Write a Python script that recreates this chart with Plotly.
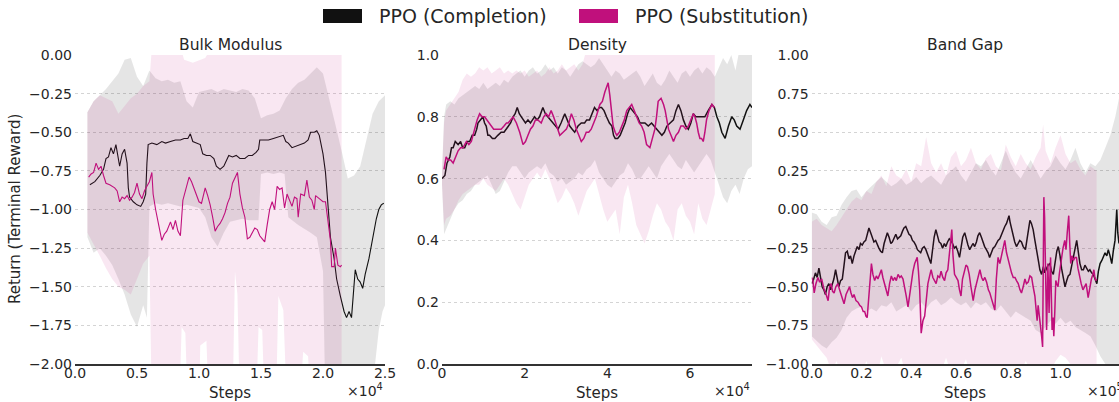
import plotly.graph_objects as go

# ---------------------------------------------------------------------------
# Training curves: mean return (line) and spread (band) for two PPO variants
# on three property targets.  Steps are stored in the axis multiplier units
# (x10^4 for Bulk Modulus / Density, x10^5 for Band Gap).
# ---------------------------------------------------------------------------

# ---- Bulk Modulus (steps x 1e4) ----
bulk_completion = [
    (0.12, -0.84), (0.16, -0.82), (0.20, -0.78), (0.23, -0.74), (0.25, -0.67), (0.27, -0.66),
    (0.29, -0.60), (0.31, -0.64), (0.33, -0.58), (0.35, -0.66), (0.36, -0.72), (0.38, -0.64),
    (0.40, -0.61), (0.42, -0.70), (0.43, -0.86), (0.44, -0.92), (0.47, -0.95), (0.50, -0.97),
    (0.53, -0.98), (0.55, -0.95), (0.57, -0.90), (0.58, -0.70), (0.59, -0.58), (0.62, -0.57),
    (0.66, -0.58), (0.70, -0.56), (0.73, -0.57), (0.77, -0.56), (0.81, -0.55), (0.85, -0.55),
    (0.88, -0.54), (0.91, -0.54), (0.93, -0.51), (0.95, -0.56), (0.98, -0.57), (1.01, -0.58),
    (1.03, -0.64), (1.06, -0.65), (1.09, -0.65), (1.12, -0.67), (1.14, -0.72), (1.17, -0.74),
    (1.20, -0.72), (1.22, -0.68), (1.24, -0.65), (1.27, -0.66), (1.30, -0.65), (1.33, -0.67),
    (1.37, -0.67), (1.40, -0.65), (1.43, -0.65), (1.46, -0.63), (1.48, -0.61), (1.49, -0.55),
    (1.52, -0.55), (1.56, -0.55), (1.60, -0.54), (1.64, -0.53), (1.68, -0.52), (1.70, -0.56),
    (1.72, -0.57), (1.75, -0.60), (1.78, -0.59), (1.81, -0.58), (1.85, -0.57), (1.88, -0.55),
    (1.90, -0.50), (1.93, -0.50), (1.95, -0.49), (1.97, -0.52), (2.00, -0.64), (2.02, -0.76),
    (2.04, -0.95), (2.06, -1.18), (2.09, -1.32), (2.11, -1.45), (2.14, -1.56), (2.17, -1.66),
    (2.19, -1.70), (2.21, -1.66), (2.23, -1.70), (2.25, -1.50), (2.26, -1.39), (2.28, -1.45),
    (2.30, -1.47), (2.32, -1.51), (2.34, -1.42), (2.37, -1.32), (2.40, -1.18), (2.43, -1.06),
    (2.45, -1.00), (2.47, -0.97), (2.49, -0.96),
]
bulk_substitution = [
    (0.11, -0.79), (0.13, -0.77), (0.15, -0.76), (0.17, -0.70), (0.19, -0.74), (0.21, -0.72),
    (0.23, -0.78), (0.25, -0.83), (0.28, -0.84), (0.30, -0.85), (0.32, -0.86), (0.34, -0.88),
    (0.36, -0.95), (0.38, -0.92), (0.40, -0.93), (0.42, -0.91), (0.44, -0.94), (0.46, -0.92),
    (0.48, -0.89), (0.50, -0.83), (0.52, -0.90), (0.54, -0.93), (0.56, -0.88), (0.58, -0.85),
    (0.60, -0.82), (0.62, -0.76), (0.63, -0.90), (0.65, -1.00), (0.66, -1.05), (0.68, -1.12),
    (0.70, -1.20), (0.72, -1.16), (0.74, -1.14), (0.77, -1.08), (0.79, -1.13), (0.81, -1.07),
    (0.83, -1.14), (0.85, -1.17), (0.87, -0.94), (0.90, -0.85), (0.92, -0.79), (0.94, -0.82),
    (0.96, -0.86), (0.98, -0.90), (1.00, -0.95), (1.02, -0.96), (1.05, -0.86), (1.07, -0.91),
    (1.09, -0.97), (1.11, -1.05), (1.13, -1.14), (1.15, -1.11), (1.17, -1.09), (1.19, -1.06),
    (1.21, -1.02), (1.23, -0.96), (1.25, -0.92), (1.27, -0.83), (1.29, -0.80), (1.31, -0.76),
    (1.33, -0.90), (1.35, -0.99), (1.37, -1.05), (1.39, -1.19), (1.41, -1.18), (1.43, -1.15),
    (1.45, -1.12), (1.47, -1.13), (1.49, -1.17), (1.51, -1.19), (1.53, -1.21), (1.55, -1.10),
    (1.57, -1.00), (1.59, -0.95), (1.61, -1.00), (1.63, -0.85), (1.65, -0.87), (1.67, -0.86),
    (1.69, -0.99), (1.71, -0.90), (1.73, -0.94), (1.75, -0.98), (1.77, -0.92), (1.79, -0.93),
    (1.80, -1.05), (1.82, -0.90), (1.85, -0.91), (1.87, -0.81), (1.89, -0.92), (1.91, -0.94),
    (1.93, -1.00), (1.94, -0.91), (1.97, -0.93), (2.00, -0.95), (2.02, -0.95), (2.04, -1.09),
    (2.06, -1.20), (2.07, -1.37), (2.09, -1.37), (2.10, -1.25), (2.12, -1.36), (2.14, -1.37),
    (2.15, -1.36),
]
bulk_completion_upper = [
    (0.10, -0.37), (0.15, -0.30), (0.20, -0.26), (0.25, -0.22), (0.30, -0.17), (0.35, -0.12),
    (0.40, -0.03), (0.45, -0.02), (0.50, -0.14), (0.55, -0.20), (0.60, -0.10), (0.65, -0.15),
    (0.70, -0.17), (0.75, -0.16), (0.80, -0.18), (0.85, -0.17), (0.90, -0.30), (0.95, -0.34),
    (1.00, -0.24), (1.05, -0.23), (1.10, -0.22), (1.15, -0.24), (1.20, -0.22), (1.25, -0.23),
    (1.30, -0.24), (1.35, -0.22), (1.40, -0.23), (1.45, -0.28), (1.50, -0.41), (1.55, -0.39),
    (1.60, -0.38), (1.65, -0.36), (1.70, -0.28), (1.75, -0.22), (1.80, -0.18), (1.85, -0.16),
    (1.90, -0.12), (1.95, -0.08), (2.00, -0.12), (2.05, -0.28), (2.10, -0.45), (2.15, -0.62),
    (2.20, -0.80), (2.25, -0.78), (2.30, -0.72), (2.35, -0.55), (2.40, -0.38), (2.45, -0.30),
    (2.50, -0.26),
]
bulk_completion_lower = [
    (0.10, -1.18), (0.15, -1.28), (0.20, -1.25), (0.25, -1.30), (0.30, -1.36), (0.35, -1.45),
    (0.40, -1.55), (0.45, -1.68), (0.50, -1.76), (0.55, -1.62), (0.58, -1.70), (0.60, -0.98),
    (0.65, -0.96), (0.70, -0.97), (0.75, -0.96), (0.80, -0.97), (0.85, -0.98), (0.90, -0.97),
    (0.95, -0.98), (1.00, -0.99), (1.05, -1.05), (1.10, -1.18), (1.15, -1.24), (1.20, -1.15),
    (1.25, -1.08), (1.30, -1.07), (1.35, -1.06), (1.40, -1.07), (1.45, -1.07), (1.48, -1.07),
    (1.50, -0.77), (1.55, -0.76), (1.60, -0.77), (1.65, -0.76), (1.69, -0.77), (1.72, -1.05),
    (1.80, -1.10), (1.90, -1.15), (1.95, -1.18), (2.00, -1.40), (2.02, -2.30), (2.40, -2.30),
    (2.42, -2.00), (2.45, -1.78), (2.48, -1.66), (2.50, -1.62),
]
bulk_substitution_upper = [
    (0.10, -0.37), (0.15, -0.30), (0.20, -0.26), (0.25, -0.28), (0.30, -0.30), (0.35, -0.38),
    (0.40, -0.33), (0.45, -0.28), (0.50, -0.25), (0.55, -0.20), (0.60, -0.17), (0.62, 0.05),
    (0.85, 0.05), (0.88, -0.03), (0.95, -0.05), (1.05, -0.02), (1.10, 0.05), (2.15, 0.05),
]
bulk_substitution_lower = [
    (0.10, -1.15), (0.15, -1.22), (0.20, -1.30), (0.25, -1.38), (0.30, -1.45), (0.35, -1.50),
    (0.40, -1.52), (0.45, -1.55), (0.50, -1.45), (0.55, -1.35), (0.60, -1.30), (0.62, -2.30),
    (0.84, -2.30), (0.86, -1.76), (0.89, -1.80), (0.91, -2.30), (1.00, -2.30), (1.01, -1.88),
    (1.06, -1.85), (1.08, -2.30), (1.27, -2.30), (1.29, -1.40), (1.31, -1.55), (1.33, -2.30),
    (1.46, -2.30), (1.48, -1.76), (1.51, -1.78), (1.53, -2.30), (1.62, -2.30), (1.64, -1.56),
    (1.68, -1.65), (1.71, -2.30), (1.81, -2.30), (1.84, -1.92), (1.88, -1.95), (1.90, -2.30),
    (2.15, -2.30),
]

# ---- Density (steps x 1e4) ----
density_completion = [
    (0.00, 0.60), (0.07, 0.61), (0.12, 0.65), (0.19, 0.67), (0.23, 0.70), (0.27, 0.70),
    (0.32, 0.72), (0.39, 0.71), (0.45, 0.72), (0.50, 0.70), (0.55, 0.70), (0.61, 0.72),
    (0.67, 0.72), (0.73, 0.74), (0.79, 0.74), (0.84, 0.76), (0.87, 0.78), (0.93, 0.79),
    (0.99, 0.80), (1.03, 0.78), (1.07, 0.77), (1.11, 0.74), (1.15, 0.74), (1.22, 0.73),
    (1.28, 0.73), (1.35, 0.74), (1.43, 0.75), (1.50, 0.75), (1.55, 0.76), (1.60, 0.77),
    (1.66, 0.78), (1.72, 0.80), (1.77, 0.81), (1.82, 0.83), (1.87, 0.81), (1.92, 0.80),
    (1.96, 0.79), (2.02, 0.78), (2.08, 0.79), (2.14, 0.78), (2.19, 0.79), (2.24, 0.80),
    (2.30, 0.79), (2.36, 0.80), (2.44, 0.83), (2.50, 0.81), (2.56, 0.80), (2.62, 0.79),
    (2.69, 0.78), (2.75, 0.77), (2.81, 0.76), (2.88, 0.78), (2.97, 0.81), (3.03, 0.79),
    (3.09, 0.77), (3.15, 0.76), (3.21, 0.75), (3.29, 0.77), (3.37, 0.78), (3.45, 0.78),
    (3.50, 0.79), (3.57, 0.79), (3.63, 0.81), (3.69, 0.83), (3.75, 0.82), (3.81, 0.83),
    (3.86, 0.83), (3.92, 0.82), (3.98, 0.80), (4.05, 0.78), (4.11, 0.77), (4.15, 0.74),
    (4.19, 0.73), (4.25, 0.73), (4.31, 0.74), (4.37, 0.76), (4.43, 0.78), (4.49, 0.81),
    (4.55, 0.83), (4.61, 0.82), (4.67, 0.81), (4.73, 0.80), (4.79, 0.78), (4.85, 0.78),
    (4.91, 0.78), (4.99, 0.77), (5.07, 0.78), (5.13, 0.77), (5.19, 0.76), (5.25, 0.75),
    (5.32, 0.74), (5.38, 0.75), (5.44, 0.77), (5.52, 0.78), (5.60, 0.79), (5.66, 0.82),
    (5.72, 0.84), (5.78, 0.82), (5.84, 0.79), (5.90, 0.77), (5.96, 0.76), (6.02, 0.78),
    (6.08, 0.81), (6.14, 0.80), (6.20, 0.80), (6.28, 0.80), (6.36, 0.80), (6.44, 0.82),
    (6.53, 0.84), (6.59, 0.83), (6.65, 0.80), (6.71, 0.78), (6.77, 0.75), (6.85, 0.73),
    (6.93, 0.77), (7.01, 0.80), (7.07, 0.79), (7.13, 0.77), (7.21, 0.76), (7.29, 0.79),
    (7.37, 0.82), (7.45, 0.84), (7.50, 0.83),
]
density_substitution = [
    (0.05, 0.63), (0.10, 0.67), (0.15, 0.66), (0.21, 0.66), (0.27, 0.65), (0.33, 0.67),
    (0.39, 0.69), (0.45, 0.70), (0.51, 0.70), (0.59, 0.72), (0.65, 0.71), (0.71, 0.72),
    (0.79, 0.76), (0.85, 0.79), (0.91, 0.81), (0.97, 0.80), (1.03, 0.80), (1.09, 0.79),
    (1.15, 0.78), (1.19, 0.77), (1.25, 0.76), (1.31, 0.76), (1.37, 0.76), (1.43, 0.76),
    (1.50, 0.77), (1.56, 0.78), (1.60, 0.78), (1.66, 0.79), (1.72, 0.80), (1.80, 0.78),
    (1.88, 0.75), (1.96, 0.71), (2.02, 0.72), (2.08, 0.74), (2.14, 0.76), (2.20, 0.77),
    (2.26, 0.79), (2.32, 0.79), (2.40, 0.78), (2.46, 0.80), (2.52, 0.81), (2.58, 0.80),
    (2.64, 0.82), (2.70, 0.80), (2.77, 0.77), (2.85, 0.74), (2.93, 0.75), (3.01, 0.76),
    (3.07, 0.78), (3.13, 0.81), (3.19, 0.79), (3.25, 0.76), (3.31, 0.74), (3.37, 0.72),
    (3.43, 0.73), (3.49, 0.75), (3.55, 0.75), (3.61, 0.76), (3.67, 0.78), (3.73, 0.80),
    (3.82, 0.84), (3.88, 0.85), (3.94, 0.88), (4.02, 0.91), (4.06, 0.87), (4.10, 0.81),
    (4.14, 0.77), (4.19, 0.75), (4.23, 0.74), (4.29, 0.75), (4.35, 0.77), (4.41, 0.79),
    (4.47, 0.82), (4.53, 0.83), (4.59, 0.84), (4.65, 0.82), (4.71, 0.80), (4.77, 0.78),
    (4.83, 0.77), (4.89, 0.75), (4.95, 0.71), (5.03, 0.70), (5.09, 0.73), (5.15, 0.76),
    (5.19, 0.80), (5.23, 0.85), (5.30, 0.86), (5.36, 0.84), (5.40, 0.82), (5.44, 0.79),
    (5.48, 0.76), (5.54, 0.74), (5.60, 0.72), (5.66, 0.74), (5.72, 0.75), (5.78, 0.77),
    (5.84, 0.77), (5.90, 0.76), (5.96, 0.77), (6.02, 0.79), (6.08, 0.81), (6.12, 0.80),
    (6.16, 0.78), (6.20, 0.75), (6.24, 0.73), (6.28, 0.73), (6.32, 0.72), (6.36, 0.75),
    (6.40, 0.79), (6.46, 0.82), (6.53, 0.84), (6.59, 0.83),
]
density_completion_upper = [
    (0.00, 0.62), (0.05, 0.80), (0.10, 0.84), (0.20, 0.85), (0.30, 0.84), (0.40, 0.86),
    (0.50, 0.87), (0.60, 0.88), (0.70, 0.89), (0.80, 0.90), (0.90, 0.89), (1.00, 0.91),
    (1.10, 0.89), (1.20, 0.90), (1.30, 0.91), (1.40, 0.90), (1.50, 0.92), (1.60, 0.91),
    (1.70, 0.93), (1.80, 0.94), (1.90, 0.95), (2.00, 0.93), (2.10, 0.95), (2.20, 0.96),
    (2.30, 0.94), (2.40, 0.95), (2.50, 0.97), (2.60, 0.95), (2.70, 0.96), (2.80, 0.94),
    (2.90, 0.96), (3.00, 0.95), (3.10, 0.93), (3.20, 0.95), (3.30, 0.97), (3.40, 0.98),
    (3.50, 0.97), (3.60, 0.96), (3.70, 0.97), (3.80, 0.99), (3.90, 0.97), (4.00, 0.95),
    (4.10, 0.93), (4.20, 0.95), (4.30, 0.94), (4.40, 0.92), (4.50, 0.93), (4.60, 0.94),
    (4.70, 0.95), (4.80, 0.93), (4.90, 0.90), (5.00, 0.92), (5.10, 0.94), (5.20, 0.91),
    (5.30, 0.90), (5.40, 0.92), (5.50, 0.95), (5.60, 0.93), (5.70, 0.91), (5.80, 0.94),
    (5.90, 0.95), (6.00, 0.93), (6.10, 0.95), (6.20, 0.96), (6.30, 0.94), (6.40, 0.96),
    (6.50, 0.95), (6.60, 0.93), (6.70, 0.96), (6.80, 0.99), (6.90, 0.97), (7.00, 1.00),
    (7.10, 0.95), (7.20, 1.02), (7.30, 1.05), (7.50, 1.05),
]
density_completion_lower = [
    (0.00, 0.58), (0.05, 0.42), (0.10, 0.44), (0.20, 0.47), (0.30, 0.50), (0.40, 0.52),
    (0.50, 0.53), (0.60, 0.55), (0.70, 0.56), (0.80, 0.58), (0.90, 0.59), (1.00, 0.60),
    (1.10, 0.61), (1.20, 0.58), (1.30, 0.55), (1.40, 0.56), (1.50, 0.59), (1.60, 0.62),
    (1.70, 0.64), (1.80, 0.64), (1.90, 0.62), (2.00, 0.60), (2.10, 0.62), (2.20, 0.63),
    (2.30, 0.64), (2.40, 0.63), (2.50, 0.65), (2.60, 0.62), (2.70, 0.61), (2.80, 0.59),
    (2.90, 0.60), (3.00, 0.58), (3.10, 0.59), (3.20, 0.60), (3.30, 0.62), (3.40, 0.61),
    (3.50, 0.63), (3.60, 0.64), (3.70, 0.66), (3.80, 0.62), (3.90, 0.60), (4.00, 0.58),
    (4.10, 0.57), (4.20, 0.59), (4.30, 0.61), (4.40, 0.62), (4.50, 0.65), (4.60, 0.63),
    (4.70, 0.60), (4.80, 0.60), (4.90, 0.62), (5.00, 0.64), (5.10, 0.62), (5.20, 0.60),
    (5.30, 0.64), (5.40, 0.66), (5.50, 0.68), (5.60, 0.66), (5.70, 0.64), (5.80, 0.63),
    (5.90, 0.66), (6.00, 0.64), (6.10, 0.62), (6.20, 0.64), (6.30, 0.66), (6.40, 0.68),
    (6.50, 0.66), (6.60, 0.62), (6.70, 0.58), (6.80, 0.54), (6.90, 0.52), (7.00, 0.56),
    (7.10, 0.58), (7.20, 0.55), (7.30, 0.60), (7.40, 0.63), (7.50, 0.64),
]
density_substitution_upper = [
    (0.00, 0.62), (0.05, 0.78), (0.10, 0.82), (0.20, 0.84), (0.30, 0.86), (0.40, 0.88),
    (0.50, 0.92), (0.60, 0.94), (0.70, 0.93), (0.80, 0.94), (0.90, 0.96), (1.00, 0.95),
    (1.10, 0.96), (1.20, 0.94), (1.30, 0.95), (1.40, 0.96), (1.50, 0.94), (1.60, 0.95),
    (1.70, 0.94), (1.80, 0.95), (1.90, 0.94), (2.00, 0.95), (2.10, 0.93), (2.20, 0.94),
    (2.30, 0.95), (2.40, 0.93), (2.50, 0.94), (2.60, 0.96), (2.70, 0.94), (2.80, 0.95),
    (2.90, 0.97), (3.00, 0.95), (3.10, 0.96), (3.20, 0.97), (3.30, 0.95), (3.40, 0.97),
    (3.50, 1.02), (3.60, 1.05), (6.60, 1.05),
]
density_substitution_lower = [
    (0.00, 0.58), (0.05, 0.45), (0.10, 0.47), (0.20, 0.48), (0.30, 0.50), (0.40, 0.53),
    (0.50, 0.55), (0.60, 0.56), (0.70, 0.57), (0.80, 0.58), (0.90, 0.58), (1.00, 0.60),
    (1.10, 0.58), (1.20, 0.57), (1.30, 0.56), (1.40, 0.58), (1.50, 0.60), (1.60, 0.58),
    (1.70, 0.55), (1.80, 0.52), (1.90, 0.50), (2.00, 0.54), (2.10, 0.58), (2.20, 0.60),
    (2.30, 0.62), (2.40, 0.60), (2.50, 0.63), (2.60, 0.60), (2.70, 0.56), (2.80, 0.52),
    (2.90, 0.54), (3.00, 0.57), (3.10, 0.55), (3.20, 0.52), (3.30, 0.48), (3.40, 0.52),
    (3.50, 0.56), (3.60, 0.58), (3.70, 0.60), (3.80, 0.55), (3.90, 0.50), (4.00, 0.46),
    (4.10, 0.48), (4.20, 0.50), (4.30, 0.42), (4.40, 0.54), (4.50, 0.58), (4.60, 0.52),
    (4.70, 0.45), (4.80, 0.42), (4.90, 0.39), (5.00, 0.43), (5.10, 0.48), (5.20, 0.52),
    (5.30, 0.50), (5.40, 0.46), (5.50, 0.44), (5.60, 0.40), (5.70, 0.50), (5.80, 0.52),
    (5.90, 0.48), (6.00, 0.46), (6.10, 0.42), (6.20, 0.52), (6.30, 0.47), (6.40, 0.45),
    (6.50, 0.50), (6.60, 0.55),
]

# ---- Band Gap (steps x 1e5) ----
bandgap_completion = [
    (0.000, -0.48), (0.008, -0.45), (0.015, -0.41), (0.022, -0.44), (0.029, -0.38), (0.036, -0.45),
    (0.042, -0.50), (0.049, -0.52), (0.055, -0.55), (0.062, -0.50), (0.069, -0.48), (0.076, -0.52),
    (0.082, -0.49), (0.089, -0.45), (0.096, -0.39), (0.103, -0.45), (0.109, -0.50), (0.116, -0.46),
    (0.123, -0.45), (0.130, -0.36), (0.136, -0.28), (0.143, -0.27), (0.150, -0.32), (0.156, -0.30),
    (0.163, -0.35), (0.170, -0.30), (0.176, -0.27), (0.183, -0.24), (0.190, -0.26), (0.196, -0.22),
    (0.203, -0.23), (0.210, -0.21), (0.217, -0.20), (0.223, -0.16), (0.230, -0.12), (0.237, -0.15),
    (0.244, -0.19), (0.250, -0.21), (0.257, -0.20), (0.264, -0.23), (0.270, -0.25), (0.277, -0.27),
    (0.284, -0.28), (0.291, -0.22), (0.297, -0.18), (0.304, -0.15), (0.311, -0.18), (0.318, -0.22),
    (0.324, -0.21), (0.331, -0.18), (0.338, -0.16), (0.345, -0.19), (0.351, -0.18), (0.358, -0.17),
    (0.365, -0.14), (0.371, -0.12), (0.378, -0.11), (0.385, -0.14), (0.391, -0.16), (0.398, -0.17),
    (0.405, -0.20), (0.411, -0.21), (0.418, -0.23), (0.425, -0.26), (0.432, -0.27), (0.438, -0.28),
    (0.445, -0.25), (0.452, -0.24), (0.459, -0.26), (0.465, -0.29), (0.472, -0.33), (0.479, -0.35),
    (0.485, -0.27), (0.492, -0.18), (0.499, -0.13), (0.506, -0.17), (0.512, -0.21), (0.519, -0.22),
    (0.526, -0.25), (0.533, -0.22), (0.539, -0.24), (0.546, -0.21), (0.553, -0.19), (0.559, -0.20),
    (0.566, -0.22), (0.573, -0.25), (0.580, -0.24), (0.587, -0.27), (0.594, -0.31), (0.600, -0.25),
    (0.607, -0.18), (0.615, -0.15), (0.621, -0.19), (0.628, -0.23), (0.635, -0.26), (0.642, -0.24),
    (0.648, -0.22), (0.655, -0.24), (0.662, -0.21), (0.668, -0.17), (0.675, -0.15), (0.682, -0.18),
    (0.689, -0.22), (0.695, -0.24), (0.702, -0.26), (0.709, -0.28), (0.715, -0.31), (0.722, -0.28),
    (0.729, -0.25), (0.736, -0.24), (0.743, -0.22), (0.749, -0.20), (0.756, -0.19), (0.763, -0.16),
    (0.769, -0.14), (0.776, -0.11), (0.783, -0.09), (0.789, -0.06), (0.793, -0.04), (0.797, -0.08),
    (0.803, -0.12), (0.810, -0.18), (0.816, -0.21), (0.823, -0.24), (0.830, -0.22), (0.836, -0.20),
    (0.843, -0.21), (0.850, -0.24), (0.859, -0.26), (0.866, -0.18), (0.872, -0.10), (0.877, -0.07),
    (0.883, -0.09), (0.890, -0.13), (0.897, -0.20), (0.906, -0.27), (0.912, -0.34), (0.917, -0.39),
    (0.924, -0.42), (0.931, -0.37), (0.937, -0.41), (0.944, -0.38), (0.950, -0.36), (0.957, -0.35),
    (0.964, -0.40), (0.971, -0.42), (0.978, -0.33), (0.985, -0.27), (0.991, -0.24), (0.998, -0.30),
    (1.004, -0.38), (1.011, -0.44), (1.018, -0.50), (1.025, -0.46), (1.031, -0.43), (1.038, -0.42),
    (1.045, -0.36), (1.051, -0.31), (1.058, -0.25), (1.065, -0.20), (1.071, -0.27), (1.078, -0.35),
    (1.085, -0.39), (1.092, -0.39), (1.098, -0.36), (1.105, -0.38), (1.112, -0.40), (1.118, -0.39),
    (1.125, -0.41), (1.132, -0.42), (1.139, -0.45), (1.146, -0.48), (1.152, -0.40), (1.159, -0.35),
    (1.166, -0.33), (1.172, -0.30), (1.179, -0.28), (1.186, -0.30), (1.192, -0.26), (1.199, -0.30),
    (1.206, -0.35), (1.212, -0.27), (1.219, -0.20), (1.226, 0.00), (1.230, -0.15), (1.235, -0.22),
]
bandgap_substitution = [
    (0.000, -0.44), (0.005, -0.46), (0.010, -0.54), (0.017, -0.48), (0.025, -0.44), (0.032, -0.47),
    (0.040, -0.45), (0.045, -0.50), (0.050, -0.52), (0.058, -0.55), (0.066, -0.59), (0.072, -0.50),
    (0.078, -0.48), (0.084, -0.53), (0.090, -0.54), (0.097, -0.50), (0.105, -0.48), (0.112, -0.52),
    (0.118, -0.55), (0.124, -0.58), (0.130, -0.61), (0.138, -0.55), (0.146, -0.52), (0.152, -0.50),
    (0.158, -0.54), (0.164, -0.57), (0.170, -0.55), (0.178, -0.59), (0.186, -0.60), (0.193, -0.62),
    (0.200, -0.63), (0.207, -0.66), (0.213, -0.66), (0.218, -0.69), (0.223, -0.70), (0.228, -0.60),
    (0.234, -0.45), (0.240, -0.35), (0.246, -0.42), (0.253, -0.46), (0.260, -0.43), (0.266, -0.45),
    (0.273, -0.42), (0.280, -0.39), (0.286, -0.44), (0.293, -0.48), (0.300, -0.53), (0.306, -0.56),
    (0.313, -0.48), (0.320, -0.43), (0.327, -0.46), (0.334, -0.44), (0.340, -0.46), (0.347, -0.42),
    (0.354, -0.44), (0.360, -0.43), (0.367, -0.45), (0.374, -0.50), (0.380, -0.56), (0.387, -0.63),
    (0.394, -0.55), (0.400, -0.46), (0.407, -0.40), (0.414, -0.35), (0.420, -0.32), (0.424, -0.31),
    (0.429, -0.40), (0.434, -0.52), (0.440, -0.80), (0.447, -0.72), (0.454, -0.69), (0.460, -0.58),
    (0.467, -0.48), (0.474, -0.43), (0.480, -0.39), (0.487, -0.44), (0.494, -0.46), (0.500, -0.48),
    (0.507, -0.43), (0.514, -0.44), (0.520, -0.40), (0.527, -0.44), (0.534, -0.46), (0.540, -0.41),
    (0.547, -0.39), (0.552, -0.30), (0.557, -0.22), (0.563, -0.13), (0.568, -0.30), (0.574, -0.42),
    (0.581, -0.44), (0.588, -0.46), (0.594, -0.52), (0.600, -0.56), (0.606, -0.45), (0.613, -0.40),
    (0.620, -0.36), (0.626, -0.37), (0.633, -0.42), (0.640, -0.50), (0.649, -0.59), (0.656, -0.52),
    (0.663, -0.47), (0.670, -0.42), (0.676, -0.39), (0.683, -0.44), (0.689, -0.46), (0.696, -0.44),
    (0.703, -0.47), (0.710, -0.52), (0.716, -0.54), (0.723, -0.58), (0.729, -0.61), (0.736, -0.65),
    (0.742, -0.45), (0.749, -0.31), (0.756, -0.35), (0.763, -0.30), (0.770, -0.25), (0.776, -0.20),
    (0.783, -0.28), (0.790, -0.33), (0.797, -0.38), (0.803, -0.41), (0.810, -0.44), (0.817, -0.44),
    (0.823, -0.46), (0.830, -0.48), (0.837, -0.52), (0.843, -0.54), (0.850, -0.50), (0.857, -0.45),
    (0.863, -0.48), (0.870, -0.47), (0.877, -0.43), (0.884, -0.44), (0.890, -0.50), (0.897, -0.56),
    (0.902, -0.65), (0.906, -0.72), (0.910, -0.62), (0.915, -0.68), (0.920, -0.76), (0.924, -0.82),
    (0.928, -0.89), (0.931, -0.35), (0.933, 0.08), (0.936, -0.05), (0.938, -0.26), (0.941, -0.60),
    (0.944, -0.78), (0.947, -0.55), (0.949, -0.35), (0.952, -0.52), (0.954, -0.67), (0.957, -0.45),
    (0.960, -0.31), (0.963, -0.55), (0.966, -0.78), (0.970, -0.70), (0.973, -0.82), (0.977, -0.66),
    (0.981, -0.46), (0.985, -0.48), (0.990, -0.50), (0.995, -0.42), (1.000, -0.36), (1.004, -0.31),
    (1.010, -0.25), (1.017, -0.20), (1.022, -0.26), (1.027, -0.15), (1.033, -0.04), (1.037, -0.22),
    (1.041, -0.35), (1.046, -0.30), (1.052, -0.33), (1.058, -0.31), (1.064, -0.31), (1.070, -0.38),
    (1.077, -0.44), (1.083, -0.48), (1.090, -0.52), (1.096, -0.50), (1.103, -0.48), (1.111, -0.57),
    (1.118, -0.50), (1.124, -0.45), (1.130, -0.42), (1.134, -0.39), (1.138, -0.44), (1.142, -0.46),
    (1.145, -0.45),
]
bandgap_completion_upper = [
    (0.00, -0.02), (0.02, -0.03), (0.04, -0.08), (0.06, -0.10), (0.08, -0.05), (0.10, -0.04),
    (0.12, 0.03), (0.14, 0.08), (0.16, 0.12), (0.18, 0.13), (0.20, 0.08), (0.22, 0.12),
    (0.24, 0.15), (0.26, 0.18), (0.28, 0.21), (0.30, 0.18), (0.32, 0.15), (0.34, 0.17),
    (0.36, 0.20), (0.38, 0.16), (0.40, 0.18), (0.42, 0.21), (0.44, 0.17), (0.46, 0.20),
    (0.48, 0.22), (0.50, 0.19), (0.52, 0.16), (0.54, 0.22), (0.56, 0.25), (0.58, 0.28),
    (0.60, 0.22), (0.62, 0.18), (0.64, 0.24), (0.66, 0.30), (0.68, 0.28), (0.70, 0.32),
    (0.72, 0.26), (0.74, 0.22), (0.76, 0.30), (0.78, 0.38), (0.80, 0.30), (0.82, 0.24),
    (0.84, 0.20), (0.86, 0.26), (0.88, 0.32), (0.90, 0.26), (0.92, 0.20), (0.94, 0.25),
    (0.96, 0.28), (0.98, 0.35), (1.00, 0.30), (1.02, 0.26), (1.04, 0.32), (1.06, 0.40),
    (1.08, 0.30), (1.10, 0.24), (1.12, 0.30), (1.14, 0.28), (1.16, 0.32), (1.18, 0.40),
    (1.20, 0.48), (1.22, 0.60), (1.235, 0.72),
]
bandgap_completion_lower = [
    (0.00, -0.82), (0.02, -0.85), (0.04, -0.88), (0.06, -0.90), (0.08, -0.86), (0.10, -0.83),
    (0.12, -0.78), (0.14, -0.70), (0.16, -0.66), (0.18, -0.64), (0.20, -0.63), (0.22, -0.66),
    (0.24, -0.64), (0.26, -0.66), (0.28, -0.62), (0.30, -0.63), (0.32, -0.60), (0.34, -0.66),
    (0.36, -0.64), (0.38, -0.62), (0.40, -0.66), (0.42, -0.62), (0.44, -0.60), (0.46, -0.64),
    (0.48, -0.60), (0.50, -0.58), (0.52, -0.62), (0.54, -0.60), (0.56, -0.57), (0.58, -0.60),
    (0.60, -0.62), (0.62, -0.60), (0.64, -0.64), (0.66, -0.60), (0.68, -0.62), (0.70, -0.60),
    (0.72, -0.64), (0.74, -0.66), (0.76, -0.62), (0.78, -0.66), (0.80, -0.70), (0.82, -0.66),
    (0.84, -0.68), (0.86, -0.70), (0.88, -0.72), (0.90, -0.78), (0.92, -0.80), (0.94, -0.76),
    (0.96, -0.72), (0.98, -0.74), (1.00, -0.70), (1.02, -0.74), (1.04, -0.72), (1.06, -0.76),
    (1.08, -0.78), (1.10, -0.80), (1.12, -0.82), (1.14, -0.88), (1.16, -0.95), (1.18, -1.00),
    (1.20, -1.05), (1.235, -1.05),
]
bandgap_substitution_upper = [
    (0.00, -0.08), (0.02, -0.06), (0.04, -0.10), (0.06, -0.12), (0.08, -0.14), (0.10, -0.10),
    (0.12, -0.05), (0.14, 0.00), (0.16, 0.05), (0.18, 0.08), (0.20, 0.06), (0.22, 0.12),
    (0.24, 0.10), (0.26, 0.18), (0.28, 0.22), (0.30, 0.15), (0.32, 0.28), (0.34, 0.22),
    (0.36, 0.20), (0.38, 0.26), (0.40, 0.18), (0.42, 0.30), (0.44, 0.28), (0.46, 0.47),
    (0.48, 0.30), (0.50, 0.24), (0.52, 0.30), (0.54, 0.22), (0.56, 0.34), (0.58, 0.38),
    (0.60, 0.28), (0.62, 0.32), (0.64, 0.40), (0.66, 0.30), (0.68, 0.26), (0.70, 0.33),
    (0.72, 0.36), (0.74, 0.28), (0.76, 0.25), (0.78, 0.42), (0.80, 0.34), (0.82, 0.28),
    (0.84, 0.36), (0.86, 0.30), (0.88, 0.26), (0.90, 0.34), (0.92, 0.40), (0.93, 0.55),
    (0.94, 0.38), (0.96, 0.30), (0.98, 0.40), (1.00, 0.48), (1.02, 0.36), (1.04, 0.30),
    (1.06, 0.32), (1.08, 0.26), (1.10, 0.22), (1.12, 0.28), (1.145, 0.25),
]
bandgap_substitution_lower = [
    (0.00, -0.84), (0.02, -0.88), (0.04, -0.92), (0.06, -0.96), (0.08, -1.05), (0.10, -0.98),
    (0.12, -1.08), (0.14, -1.02), (0.16, -1.10), (0.18, -1.04), (0.20, -1.06), (0.22, -0.98),
    (0.24, -1.08), (0.26, -1.10), (0.28, -0.95), (0.30, -1.05), (0.32, -1.10), (0.34, -1.02),
    (0.36, -0.96), (0.38, -1.08), (0.40, -1.10), (0.42, -1.02), (0.44, -1.08), (0.46, -1.10),
    (0.48, -1.00), (0.50, -1.08), (0.52, -1.05), (0.54, -0.96), (0.56, -1.06), (0.58, -1.10),
    (0.60, -1.04), (0.62, -0.97), (0.64, -1.08), (0.66, -1.10), (0.68, -1.03), (0.70, -1.10),
    (0.72, -1.08), (0.74, -1.00), (0.76, -1.06), (0.78, -1.10), (0.80, -1.04), (0.82, -1.10),
    (0.84, -1.06), (0.86, -0.98), (0.88, -1.04), (0.90, -1.10), (0.92, -1.08), (0.94, -1.10),
    (0.96, -1.05), (0.98, -0.98), (1.00, -0.94), (1.02, -0.96), (1.04, -1.00), (1.06, -1.10),
    (1.08, -1.06), (1.10, -1.08), (1.12, -1.04), (1.145, -1.00),
]

# ---- axes: titles, ranges, ticks ----
panel_titles = ["Bulk Modulus", "Density", "Band Gap"]
x_ranges = [[0, 2.5], [0, 7.5], [0, 1.235]]
y_ranges = [[-2.0, 0.0], [0.0, 1.0], [-1.0, 1.0]]
x_ticks = [[0.0, 0.5, 1.0, 1.5, 2.0, 2.5], [0, 2, 4, 6], [0.0, 0.2, 0.4, 0.6, 0.8, 1.0, 1.2]]
x_tick_fmt = ["{:.1f}", "{:.0f}", "{:.1f}"]
y_ticks = [
    [0.0, -0.25, -0.5, -0.75, -1.0, -1.25, -1.5, -1.75, -2.0],
    [0.0, 0.2, 0.4, 0.6, 0.8, 1.0],
    [-1.0, -0.75, -0.5, -0.25, 0.0, 0.25, 0.5, 0.75, 1.0],
]
y_tick_fmt = ["{:.2f}", "{:.1f}", "{:.2f}"]
x_exponents = ["4", "4", "5"]
series_names = ["PPO (Completion)", "PPO (Substitution)"]

panels = [
    (bulk_completion, bulk_completion_upper, bulk_completion_lower,
     bulk_substitution, bulk_substitution_upper, bulk_substitution_lower),
    (density_completion, density_completion_upper, density_completion_lower,
     density_substitution, density_substitution_upper, density_substitution_lower),
    (bandgap_completion, bandgap_completion_upper, bandgap_completion_lower,
     bandgap_substitution, bandgap_substitution_upper, bandgap_substitution_lower),
]

# ---- style ----
W, H = 1119, 402
FONT = "DejaVu Sans"
TEXT = "#262626"
BLACK = "#111111"
MAGENTA = "#C0107C"
GREY_BAND = "rgba(0,0,0,0.10)"
PINK_BAND = "rgba(192,16,124,0.10)"
LINE_W = [1.1, 1.5, 1.5]

# plot areas in pixels (left, right) and common (top, bottom)
px_x = [(75, 385), (442, 752), (811.7, 1119)]
px_top, px_bottom = 55, 364


def fx(p):
    return p / W


def fy(p):
    return 1 - p / H


def unzip(pairs):
    return [p[0] for p in pairs], [p[1] for p in pairs]


def band_polygon(upper, lower):
    ux, uy = unzip(upper)
    lx, ly = unzip(lower)
    return ux + lx[::-1], uy + ly[::-1]


def fmt_tick(fmt, v):
    s = fmt.format(v)
    if s.startswith("-"):
        s = "\u2212" + s[1:]
    return s


fig = go.Figure()
annotations = []

for i, (c_line, c_up, c_lo, s_line, s_up, s_lo) in enumerate(panels):
    xa = "x" if i == 0 else f"x{i + 1}"
    ya = "y" if i == 0 else f"y{i + 1}"

    bx, by = band_polygon(c_up, c_lo)
    fig.add_trace(go.Scatter(x=bx, y=by, xaxis=xa, yaxis=ya, fill="toself",
                             fillcolor=GREY_BAND, line=dict(width=0), mode="lines",
                             hoverinfo="skip", showlegend=False))
    lx, ly = unzip(c_line)
    fig.add_trace(go.Scatter(x=lx, y=ly, xaxis=xa, yaxis=ya, mode="lines",
                             line=dict(color=BLACK, width=LINE_W[i]),
                             name=series_names[0], showlegend=False))

    bx, by = band_polygon(s_up, s_lo)
    fig.add_trace(go.Scatter(x=bx, y=by, xaxis=xa, yaxis=ya, fill="toself",
                             fillcolor=PINK_BAND, line=dict(width=0), mode="lines",
                             hoverinfo="skip", showlegend=False))
    lx, ly = unzip(s_line)
    fig.add_trace(go.Scatter(x=lx, y=ly, xaxis=xa, yaxis=ya, mode="lines",
                             line=dict(color=MAGENTA, width=LINE_W[i]),
                             name=series_names[1], showlegend=False))

    x0, x1 = px_x[i]
    xkey = "xaxis" if i == 0 else f"xaxis{i + 1}"
    ykey = "yaxis" if i == 0 else f"yaxis{i + 1}"
    fig.update_layout(**{
        xkey: dict(
            domain=[fx(x0), min(fx(x1), 1.0)], anchor=ya, range=x_ranges[i],
            tickvals=x_ticks[i], ticktext=[fmt_tick(x_tick_fmt[i], v) for v in x_ticks[i]],
            showgrid=False, zeroline=False, showline=True, linecolor="#333333",
            linewidth=1.6, ticks="", automargin=False, ticklabelstandoff=-5,
            tickfont=dict(family=FONT, size=14, color=TEXT),
        ),
        ykey: dict(
            domain=[fy(px_bottom), fy(px_top)], anchor=xa, range=y_ranges[i],
            tickvals=y_ticks[i], ticktext=[fmt_tick(y_tick_fmt[i], v) for v in y_ticks[i]],
            showgrid=True, gridcolor="#d4d4d4", griddash="dot", gridwidth=1,
            zeroline=False, showline=False, ticks="", automargin=False,
            ticklabelstandoff=2,
            tickfont=dict(family=FONT, size=14, color=TEXT),
        ),
    })

    # panel title
    annotations.append(dict(text=panel_titles[i], x=fx((x0 + x1) / 2), y=fy(45),
                            xref="paper", yref="paper", showarrow=False,
                            xanchor="center", yanchor="middle",
                            font=dict(family=FONT, size=15.5, color=TEXT)))
    # x-axis label
    annotations.append(dict(text="Steps", x=fx((x0 + x1) / 2), y=fy(393),
                            xref="paper", yref="paper", showarrow=False,
                            xanchor="center", yanchor="middle",
                            font=dict(family=FONT, size=15, color=TEXT)))
    # axis multiplier
    annotations.append(dict(text=f"\u00d710<sup>{x_exponents[i]}</sup>",
                            x=fx(x1 if i < 2 else 1085), y=fy(390),
                            xref="paper", yref="paper", showarrow=False,
                            xanchor="right" if i < 2 else "left", yanchor="middle",
                            font=dict(family=FONT, size=14, color=TEXT)))

# shared y-axis label
annotations.append(dict(text="Return (Terminal Reward)", x=fx(15), y=fy(209),
                        xref="paper", yref="paper", showarrow=False, textangle=-90,
                        xanchor="center", yanchor="middle",
                        font=dict(family=FONT, size=15, color=TEXT)))

# legend (swatches + labels) across the top
legend_items = [(323, 362, 377, BLACK, series_names[0]), (579, 618, 633, MAGENTA, series_names[1])]
shapes = []
for sx0, sx1, tx, col, label in legend_items:
    shapes.append(dict(type="rect", xref="paper", yref="paper",
                       x0=fx(sx0), x1=fx(sx1), y0=fy(23), y1=fy(9),
                       fillcolor=col, line=dict(width=0)))
    annotations.append(dict(text=label, x=fx(tx), y=fy(16), xref="paper", yref="paper",
                            showarrow=False, xanchor="left", yanchor="middle",
                            font=dict(family=FONT, size=19, color=TEXT)))

fig.update_layout(
    width=W, height=H,
    margin=dict(l=0, r=0, t=0, b=0),
    paper_bgcolor="white", plot_bgcolor="white",
    showlegend=False,
    annotations=annotations,
    shapes=shapes,
    font=dict(family=FONT, color=TEXT),
)

fig.write_html("out.html")
